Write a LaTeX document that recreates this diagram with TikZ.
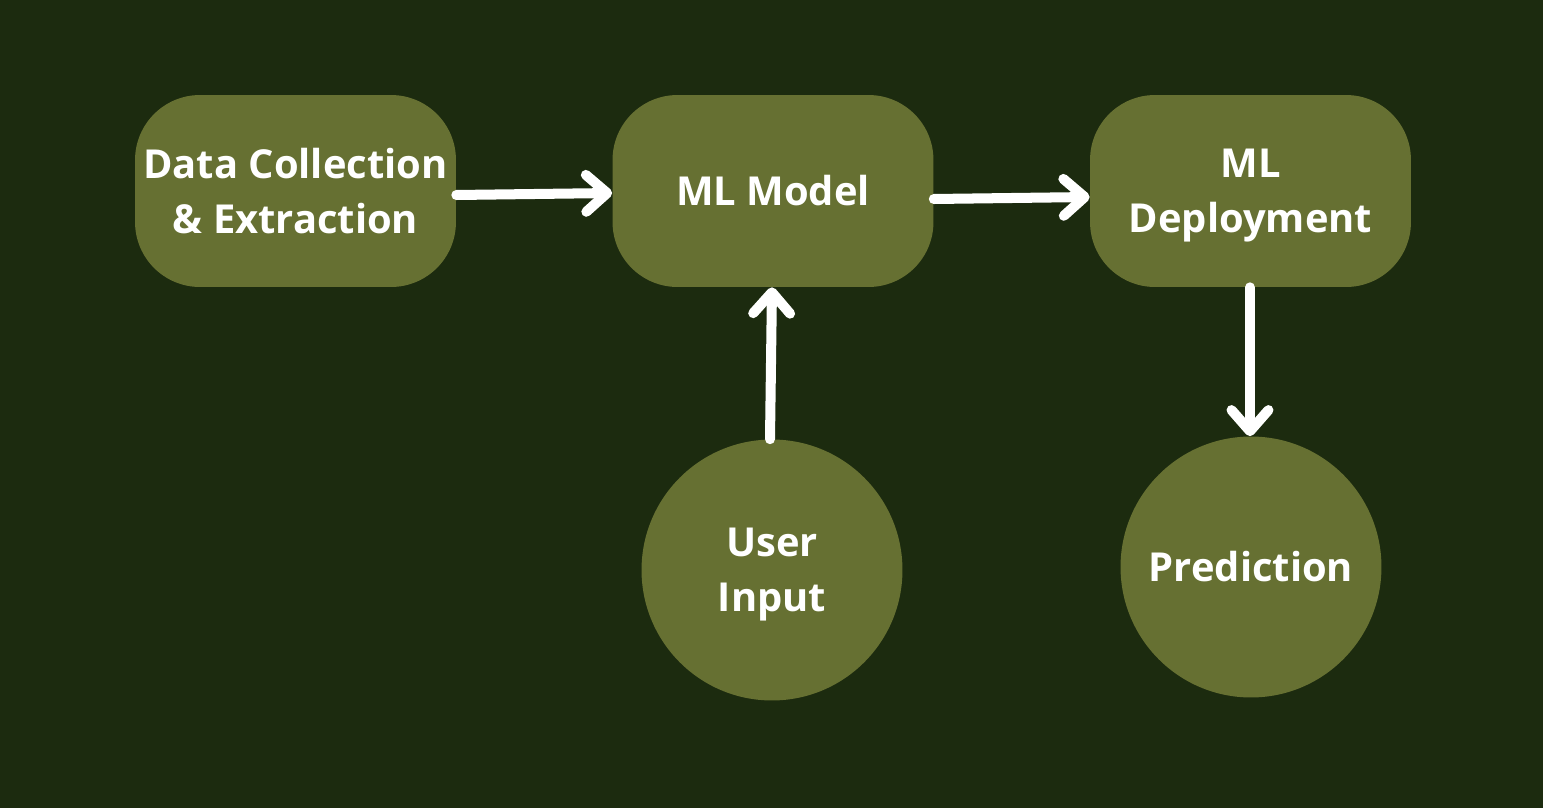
\documentclass[tikz,border=0pt]{standalone}
\usepackage{fontspec}
\setmainfont{Open Sans}
\usetikzlibrary{arrows.meta}
\definecolor{bgdark}{HTML}{1C2B0F}
\definecolor{olive}{HTML}{667032}
\begin{document}
\begin{tikzpicture}[x=0.02cm, y=-0.02cm,
    stagebox/.style={fill=olive, rounded corners=1.3cm, minimum width=6.42cm, minimum height=3.84cm,
      text=white, font=\bfseries\fontsize{22.7}{31.3}\selectfont, align=center, inner sep=0pt},
    stagecircle/.style={circle, fill=olive, minimum size=5.22cm,
      text=white, font=\bfseries\fontsize{22.7}{31.3}\selectfont, align=center, inner sep=0pt},
    flow/.style={draw=white, line width=5.7pt, line cap=round,
      -{Straight Barb[round, length=12pt, width=21pt, line width=5.7pt]}}]
         \fill[bgdark] (0,0) rectangle (1543,808);
         \useasboundingbox (0,0) rectangle (1543,808);
         %nodes
         \node[stagebox] at (295.5,191) (collect) {Data Collection\\\& Extraction};
         \node[stagebox] at (773,191) (model) {ML Model};
         \node[stagebox, text depth=0pt] at (1250.5,191) (deploy) {ML\\Deployment};
         \node[stagecircle, text depth=0pt] at (772,570) (userin) {User\\Input};
         \node[stagecircle] at (1251,567) (predict) {Prediction};
         % arrows between nodes
         \draw[flow] (collect.east |- 0,195) -- (model.west |- 0,193);
         \draw[flow] (model.east |- 0,199) -- (deploy.west |- 0,197);
         \draw[flow] (userin.north -| 770,0) -- (model.south -| 772,0);
         \draw[flow] (deploy.south -| 1250,0) -- (predict.north -| 1250,0);
\end{tikzpicture}
\end{document}
